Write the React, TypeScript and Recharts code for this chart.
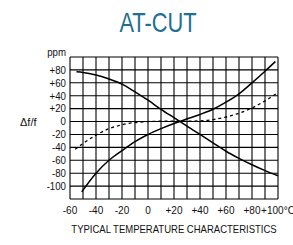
import React from 'react';
import { LineChart, Line, XAxis, YAxis, CartesianGrid } from 'recharts';

// descending solid curve
const tempsA = [-55, -50, -40, -30, -20, -10, 0, 10, 20, 30, 40, 50, 60, 70, 80, 90, 100];
const ppmA = [77, 76, 72, 66, 58, 46, 33, 19, 6, -7, -20, -33, -46, -57, -67, -76, -84];

// ascending solid curve
const tempsB = [-51, -40, -30, -20, -10, 0, 10, 20, 30, 40, 50, 60, 70, 80, 90, 98];
const ppmB = [-109, -80, -60, -45, -31, -20, -11, -3, 4, 11, 19, 30, 43, 60, 78, 93];

// dashed curve
const tempsC = [-56, -50, -40, -30, -20, -10, 0, 10, 20, 30, 40, 50, 60, 70, 80, 90, 100];
const ppmC = [-43, -34, -21, -11, -5, -1.5, 0, 0.5, 0.5, 0.5, 1, 3, 7, 13, 21, 32, 45];

const xTicks = [-60, -50, -40, -30, -20, -10, 0, 10, 20, 30, 40, 50, 60, 70, 80, 90, 100];
const yTicks = [-120, -100, -80, -60, -40, -20, 0, 20, 40, 60, 80, 100];

const FONT = '"Liberation Sans", Arial, sans-serif';

const toRows = (temps: number[], vals: number[]) => temps.map((t, i) => ({ t, v: vals[i] }));

const dataA = toRows(tempsA, ppmA);
const dataB = toRows(tempsB, ppmB);
const dataC = toRows(tempsC, ppmC);

const sign = (v: number) => (v > 0 ? `+${v}` : `${v}`);

function YTick(props: any) {
  const { x, y, payload } = props;
  const v = payload.value;
  if (v === -120) return <g />;
  const label = v === 100 ? 'ppm' : sign(v);
  return (
    <text
      transform={`translate(${x},${y}) scale(0.88,1)`}
      dy={v === 100 ? -1 : 3.8}
      textAnchor="end"
      fontSize={11}
      fill="#111"
      fontFamily={FONT}
    >
      {label}
    </text>
  );
}

function XTick(props: any) {
  const { x, y, payload } = props;
  const v = payload.value;
  if (v % 20 !== 0) return <g />;
  const label = v === 100 ? '+100°C' : sign(v);
  return (
    <text
      transform={`translate(${x},${y}) scale(0.85,1)`}
      dy={8.5}
      textAnchor="middle"
      fontSize={11.8}
      fill="#111"
      fontFamily={FONT}
    >
      {label}
    </text>
  );
}

export default function App() {
  return (
    <div style={{ position: 'absolute', left: 0, top: 0, width: 293, height: 245, background: '#fff', overflow: 'hidden' }}>
      <div
        style={{
          position: 'absolute', left: 58, width: 200, top: 9, textAlign: 'center',
          fontFamily: FONT, fontSize: 28, lineHeight: '28px', color: '#1d6f93',
          transform: 'scaleX(0.78)', transformOrigin: 'center',
        }}
      >
        AT-CUT
      </div>
      <div style={{ position: 'absolute', left: 20, top: 117, fontFamily: FONT, fontSize: 11, lineHeight: '11px', color: '#111' }}>
        Δf/f
      </div>
      <LineChart width={293} height={245} data={dataA} margin={{ top: 57, right: 15, bottom: 26, left: 30 }}>
        <CartesianGrid stroke="#000" strokeWidth={1.1} />
        <XAxis
          type="number"
          dataKey="t"
          domain={[-60, 100]}
          ticks={xTicks}
          interval={0}
          tick={<XTick />}
          tickLine={false}
          axisLine={false}
          tickSize={0}
          tickMargin={6}
          height={20}
        />
        <YAxis
          type="number"
          domain={[-120, 100]}
          ticks={yTicks}
          interval={0}
          tick={<YTick />}
          tickLine={false}
          axisLine={false}
          tickSize={0}
          tickMargin={4}
          width={40}
        />
        <Line data={dataA} dataKey="v" type="monotone" stroke="#000" strokeWidth={1.5} dot={false} isAnimationActive={false} />
        <Line data={dataB} dataKey="v" type="monotone" stroke="#000" strokeWidth={1.5} dot={false} isAnimationActive={false} />
        <Line data={dataC} dataKey="v" type="monotone" stroke="#000" strokeWidth={1.3} strokeDasharray="3 3" dot={false} isAnimationActive={false} />
      </LineChart>
      <div
        style={{
          position: 'absolute', left: 24, width: 300, top: 223, textAlign: 'center',
          fontFamily: FONT, fontSize: 11.6, lineHeight: '12px', color: '#111', whiteSpace: 'nowrap',
          transform: 'scaleX(0.82)', transformOrigin: '150px 0',
        }}
      >
        TYPICAL TEMPERATURE CHARACTERISTICS
      </div>
    </div>
  );
}
